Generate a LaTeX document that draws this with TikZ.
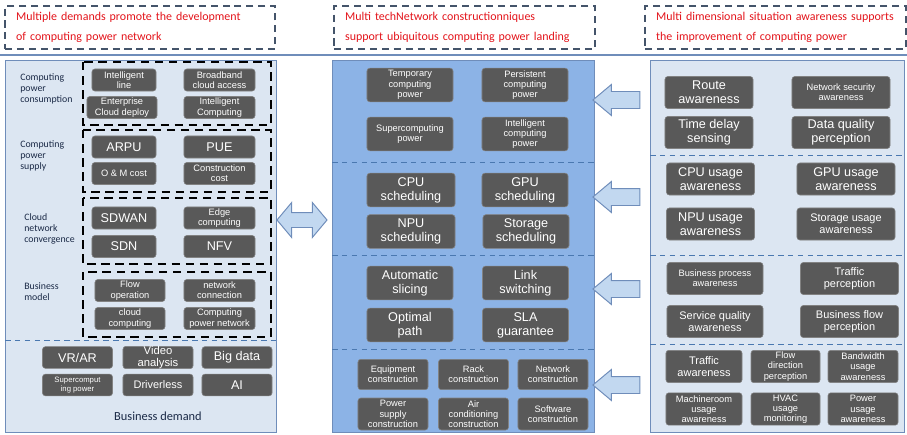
\documentclass[tikz,border=0pt]{standalone}
\usepackage{fontspec}
\usepackage{xcolor}
\usepackage{tikz}
\usetikzlibrary{shapes,arrows,positioning,fit}
\newfontfamily\nodefont{Liberation Sans}
\newfontfamily\notefont{Carlito}
\definecolor{panelblue}{HTML}{DCE6F2}
\definecolor{coreblue}{HTML}{8CB3E6}
\definecolor{nodegray}{HTML}{595959}
\definecolor{edgeblue}{HTML}{6F8DBA}
\definecolor{dashblue}{HTML}{4A78B0}
\definecolor{framegray}{HTML}{44546A}
\definecolor{arrowfill}{HTML}{C2D8F0}
\definecolor{headred}{HTML}{E3141B}
\definecolor{labelnavy}{HTML}{1B2A47}

\begin{document}
\begin{tikzpicture}[x=0.025cm, y=-0.025cm,
    box/.style={rectangle, rounded corners=2pt, fill=nodegray, draw=nodegray!75!white, text=white, align=center, inner sep=0pt, font=\nodefont\fontsize{6.6}{7.3}\selectfont},
    big/.style={font=\nodefont\fontsize{9}{10}\selectfont},
    mid/.style={font=\nodefont\fontsize{7.8}{8.6}\selectfont},
    lbox/.style={box, minimum width=1.6cm, minimum height=0.55cm},
    rbox/.style={box, minimum width=1.775cm, minimum height=0.55cm},
    dbox/.style={box, minimum width=1.75cm, minimum height=0.54cm},
    mbox/.style={box, minimum width=2.15cm, minimum height=0.84cm},
    cbox/.style={box, minimum width=1.75cm, minimum height=0.76cm},
    abox/.style={box, minimum width=2.2cm, minimum height=0.8cm},
    bbox/.style={box, minimum width=2.45cm, minimum height=0.8cm},
    sbox/.style={box, minimum height=0.81cm},
    sidelabel/.style={anchor=west, align=left, inner sep=0pt, text=labelnavy, font=\notefont\fontsize{7}{7.8}\selectfont},
    titlebox/.style={draw=framegray, line width=1pt, dash pattern=on 5pt off 3.5pt, text=headred, align=left, inner xsep=0.28cm, minimum height=1.075cm, font=\notefont\fontsize{8.5}{14}\selectfont},
    panel/.style={draw=edgeblue, line width=0.6pt},
    sepline/.style={draw=dashblue, line width=0.6pt, dash pattern=on 4pt off 3pt},
    groupbox/.style={draw=black, line width=1.1pt, dash pattern=on 6pt off 4pt},
    biarrow/.style={double arrow, draw=edgeblue, fill=arrowfill, line width=0.7pt, minimum height=1.25cm, minimum width=0.85cm, double arrow head extend=0.25cm, double arrow tip angle=100, inner xsep=0pt, inner ysep=0.175cm},
    feed/.style={single arrow, shape border rotate=180, draw=edgeblue, fill=arrowfill, line width=0.7pt, minimum height=1.175cm, minimum width=0.75cm, single arrow head extend=0.175cm, single arrow tip angle=80, inner xsep=0pt, inner ysep=0.2cm}
]
\useasboundingbox (0,0) rectangle (907,434);

% headings
\node[titlebox, minimum width=6.75cm, text width=6.19cm] (need) at (140,27.5) {Multiple demands promote the development\\of computing power network};
\node[titlebox, minimum width=6.525cm, text width=5.965cm] (tech) at (464.5,27.5) {Multi techNetwork constructionniques\\support ubiquitous computing power landing};
\node[titlebox, minimum width=6.525cm, text width=5.965cm] (sense) at (775.5,27.5) {Multi dimensional situation awareness supports\\the improvement of computing power};
\draw[edgeblue, line width=1.2pt] (0,55) -- (907,55);

% panels
\draw[panel, fill=panelblue] (5,60) rectangle (276,432);
\draw[panel, fill=coreblue] (332,60) rectangle (594,432);
\draw[panel, fill=panelblue] (650,60) rectangle (904,432);
\draw[sepline] (5,340) -- (276,340);
\foreach \y in {162,255,349} \draw[sepline] (332,\y) -- (594,\y);
\foreach \y in {155,255,344} \draw[sepline] (650,\y) -- (904,\y);
\foreach \ya/\yb in {62/125, 130/192, 198/264, 272/337} \draw[groupbox] (83,\ya) rectangle (271,\yb);

% demand side
\node[sidelabel] (consume) at (20,89) {Computing\\power\\consumption};
\node[sidelabel] (supply) at (20,156) {Computing\\power\\supply};
\node[sidelabel] (converge) at (24,229) {Cloud\\network\\convergence};
\node[sidelabel] (model) at (24,292) {Business\\model};

\node[lbox] (line) at (124,80) {Intelligent\\line};
\node[rbox] (bcast) at (219.5,80) {Broadband\\cloud access};
\node[lbox, minimum width=1.75cm] (entcloud) at (122,107.5) {Enterprise\\Cloud deploy};
\node[rbox] (intcomp) at (219.5,107.5) {Intelligent\\Computing};
\node[lbox, big] (arpu) at (124,147) {ARPU};
\node[rbox, big] (pue) at (219.5,147) {PUE};
\node[lbox] (om) at (124,173.5) {O \& M cost};
\node[rbox] (buildcost) at (219.5,173.5) {Construction\\cost};
\node[lbox, big] (sdwan) at (124,218) {SDWAN};
\node[rbox] (edge) at (219.5,218) {Edge\\computing};
\node[lbox, big] (sdn) at (124,246.5) {SDN};
\node[rbox, big] (nfv) at (219.5,246.5) {NFV};
\node[lbox, minimum width=1.75cm] (flowop) at (130,290.5) {Flow\\operation};
\node[rbox] (netconn) at (219.5,290.5) {network\\connection};
\node[lbox, minimum width=1.75cm] (cloudcomp) at (130,318.5) {cloud\\computing};
\node[rbox] (cpnet) at (219.5,318.5) {Computing\\power network};

\node[dbox, big] (vrar) at (77.5,357.5) {VR/AR};
\node[dbox, font=\nodefont\fontsize{8}{8.4}\selectfont] (video) at (158,357.5) {Video\\analysis};
\node[dbox, big] (bigdata) at (237,357.5) {Big data};
\node[dbox, font=\nodefont\fontsize{5.5}{6.2}\selectfont] (supercomp) at (77.5,385) {Supercomput\\ing power};
\node[dbox, mid] (driverless) at (158,385) {Driverless};
\node[dbox, big] (ai) at (237,385) {AI};
\node[sidelabel, anchor=center, font=\notefont\fontsize{8.8}{10}\selectfont] (demand) at (158,416) {Business demand};

% network side
\node[mbox] (temp) at (410,85) {Temporary\\computing\\power};
\node[mbox] (persist) at (525,85) {Persistent\\computing\\power};
\node[mbox] (super) at (410,134) {Supercomputing\\power};
\node[mbox] (intpower) at (525,134) {Intelligent\\computing\\power};
\node[mbox, big, minimum width=2.2cm] (cpusch) at (411,190) {CPU\\scheduling};
\node[mbox, big] (gpusch) at (525,190) {GPU\\scheduling};
\node[mbox, big, minimum width=2.2cm] (npusch) at (411,231.5) {NPU\\scheduling};
\node[mbox, big] (storsch) at (526,231.5) {Storage\\scheduling};
\node[mbox, big] (slicing) at (410,283) {Automatic\\slicing};
\node[mbox, big] (linksw) at (525.5,283) {Link\\switching};
\node[mbox, big] (optpath) at (410,325) {Optimal\\path};
\node[mbox, big] (sla) at (525.5,325) {SLA\\guarantee};
\node[cbox] (equip) at (393,374.5) {Equipment\\construction};
\node[cbox] (rack) at (473.5,374.5) {Rack\\construction};
\node[cbox] (netbuild) at (553,374.5) {Network\\construction};
\node[cbox, minimum height=0.8cm] (power) at (393,414) {Power\\supply\\construction};
\node[cbox, minimum height=0.8cm] (aircon) at (473.5,414) {Air\\conditioning\\construction};
\node[cbox, minimum height=0.8cm] (software) at (553,414) {Software\\construction};

% awareness side
\node[abox, big] (route) at (709,92.5) {Route\\awareness};
\node[bbox] (netsec) at (841,92.5) {Network security\\awareness};
\node[abox, big] (delay) at (709,132.5) {Time delay\\sensing};
\node[bbox, big] (quality) at (841,132.5) {Data quality\\perception};
\node[abox, big] (cpuuse) at (710.5,179) {CPU usage\\awareness};
\node[bbox, big] (gpuuse) at (846,179) {GPU usage\\awareness};
\node[abox, big] (npuuse) at (710.5,224) {NPU usage\\awareness};
\node[bbox, mid] (storuse) at (846,224) {Storage usage\\awareness};
\node[abox, minimum width=2.4cm] (process) at (715,278.5) {Business process\\awareness};
\node[bbox, mid] (trafper) at (849.5,278.5) {Traffic\\perception};
\node[abox, mid, minimum width=2.4cm] (service) at (715,321.5) {Service quality\\awareness};
\node[bbox, mid] (bizflow) at (849.5,321.5) {Business flow\\perception};
\node[sbox, mid, minimum width=1.9cm] (trafaw) at (704,366.5) {Traffic\\awareness};
\node[sbox, minimum width=1.725cm] (flowdir) at (785.5,366.5) {Flow\\direction\\perception};
\node[sbox, minimum width=1.75cm] (bandwidth) at (863,366.5) {Bandwidth\\usage\\awareness};
\node[sbox, minimum width=1.9cm] (machine) at (704,409) {Machineroom\\usage\\awareness};
\node[sbox, minimum width=1.725cm] (hvac) at (785.5,409) {HVAC\\usage\\monitoring};
\node[sbox, minimum width=1.75cm] (powuse) at (863,409) {Power\\usage\\awareness};

% block arrows
\node[biarrow] (link) at (302,220) {};
\foreach \y/\n in {100/feedA, 197/feedB, 289/feedC, 385/feedD} \node[feed] (\n) at (621.5,\y) {};
\end{tikzpicture}
\end{document}
